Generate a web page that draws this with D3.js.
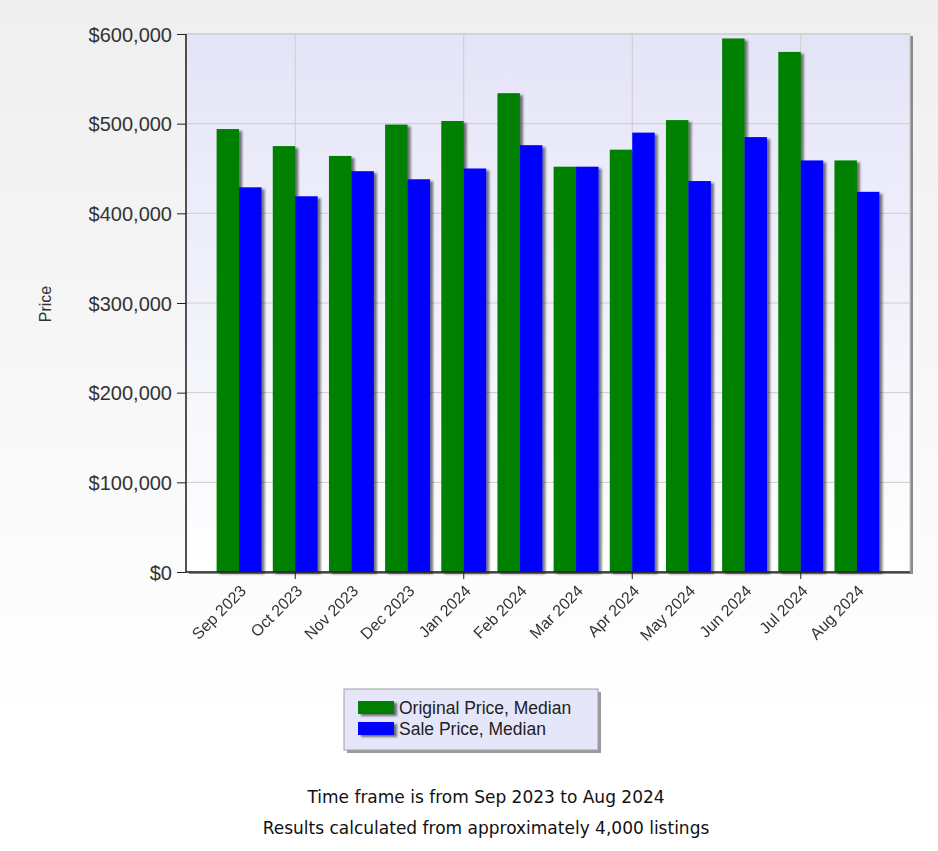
<!DOCTYPE html>
<html>
<head>
<meta charset="utf-8">
<script src="https://cdn.jsdelivr.net/npm/d3@7"></script>
<style>
  html, body { margin: 0; padding: 0; background: #fff; }
  svg { display: block; }
  .tick text { font-family: Arial, 'Liberation Sans', sans-serif; fill: #333; }
  .note { font-family: Verdana, 'DejaVu Sans', sans-serif; font-size: 17px; fill: #111; }
</style>
</head>
<body>
<svg width="938" height="851"></svg>
<script>
const months = ['Sep 2023', 'Oct 2023', 'Nov 2023', 'Dec 2023', 'Jan 2024', 'Feb 2024',
  'Mar 2024', 'Apr 2024', 'May 2024', 'Jun 2024', 'Jul 2024', 'Aug 2024']
const originalPrice = [494000, 475000, 464000, 499000, 503000, 534000, 452000, 471000, 504000, 595000, 580000, 459000]
const salePrice = [429000, 419000, 447000, 438000, 450000, 476000, 452000, 490000, 436000, 485000, 459000, 424000]
const seriesNames = ['Original Price, Median', 'Sale Price, Median']
const seriesColors = ['#008000', '#0000ff']
const yTicks = [0, 100000, 200000, 300000, 400000, 500000, 600000]
const xTickMonths = ['Oct 2023', 'Jan 2024', 'Apr 2024', 'Jul 2024']
const notes = ['Time frame is from Sep 2023 to Aug 2024', 'Results calculated from approximately 4,000 listings']

const width = 938
const height = 851
const margin = { top: 34, right: 28, bottom: 279, left: 186 }

const svg = d3.select('svg')
const defs = svg.append('defs')

const pageGrad = defs.append('linearGradient')
  .attr('id', 'page-bg').attr('x1', 0).attr('y1', 0).attr('x2', 0).attr('y2', 1)
pageGrad.append('stop').attr('offset', '0%').attr('stop-color', '#efefef')
pageGrad.append('stop').attr('offset', '85%').attr('stop-color', '#ffffff')

const plotGrad = defs.append('linearGradient')
  .attr('id', 'plot-bg').attr('x1', 0).attr('y1', 0).attr('x2', 0).attr('y2', 1)
plotGrad.append('stop').attr('offset', '0%').attr('stop-color', '#e4e4f8')
plotGrad.append('stop').attr('offset', '100%').attr('stop-color', '#ffffff')

defs.append('filter').attr('id', 'shadow')
  .attr('x', '-20%').attr('y', '-20%').attr('width', '160%').attr('height', '160%')
  .append('feDropShadow')
  .attr('dx', 3).attr('dy', 2).attr('stdDeviation', 1)
  .attr('flood-color', '#222').attr('flood-opacity', 0.6)

svg.append('rect')
  .attr('width', width).attr('height', height)
  .attr('fill', 'url(#page-bg)')

const x0 = margin.left
const x1 = width - margin.right
const yBottom = height - margin.bottom

const xScale = d3.scaleBand(months, [x0, x1])
  .paddingInner(0.2)
  .paddingOuter(0.545)
const xSub = d3.scaleBand([0, 1], [0, xScale.bandwidth()])
const yScale = d3.scaleLinear([0, 600000], [yBottom, margin.top])

// Plot area with shadow
svg.append('rect')
  .attr('x', x0 + 3).attr('y', margin.top + 2)
  .attr('width', x1 - x0).attr('height', yBottom - margin.top)
  .attr('fill', '#8a8a8a')
svg.append('rect')
  .attr('x', x0).attr('y', margin.top)
  .attr('width', x1 - x0).attr('height', yBottom - margin.top)
  .attr('fill', 'url(#plot-bg)')
  .attr('stroke', '#c8c8c8')

// Grid
svg.append('g')
  .selectAll('line')
  .data(yTicks.slice(1))
  .join('line')
  .attr('x1', x0).attr('x2', x1)
  .attr('y1', d => yScale(d)).attr('y2', d => yScale(d))
  .attr('stroke', '#cccccc')

svg.append('g')
  .selectAll('line')
  .data(xTickMonths)
  .join('line')
  .attr('x1', d => xScale(d) + xScale.bandwidth() / 2)
  .attr('x2', d => xScale(d) + xScale.bandwidth() / 2)
  .attr('y1', margin.top).attr('y2', yBottom)
  .attr('stroke', '#cccccc')

// Bars
const rows = months.map((m, i) => ({ month: m, values: [originalPrice[i], salePrice[i]] }))
svg.append('g')
  .attr('filter', 'url(#shadow)')
  .selectAll('g')
  .data(rows)
  .join('g')
  .attr('transform', d => `translate(${ xScale(d.month) },0)`)
  .selectAll('rect')
  .data(d => d.values.map((v, k) => ({ k, v })))
  .join('rect')
  .attr('x', d => xSub(d.k))
  .attr('width', xSub.bandwidth())
  .attr('y', d => yScale(d.v))
  .attr('height', d => yBottom - yScale(d.v))
  .attr('fill', d => seriesColors[d.k])

// Y axis
const yAxisEl = svg.append('g')
  .attr('transform', `translate(${ x0 },0)`)
  .call(d3.axisLeft(yScale).tickValues(yTicks).tickFormat(d3.format('$,')).tickSize(9).tickPadding(5))
yAxisEl.selectAll('.tick text').style('font-size', '20px').attr('dy', '0.36em')
yAxisEl.selectAll('.tick line').attr('stroke', '#222')
yAxisEl.select('.domain').remove()

// X axis
const xAxisEl = svg.append('g')
  .attr('transform', `translate(0,${ yBottom })`)
  .call(d3.axisBottom(xScale).tickSize(0).tickPadding(0))
xAxisEl.select('.domain').remove()
xAxisEl.selectAll('.tick text')
  .style('font-size', '16px')
  .attr('text-anchor', 'end')
  .attr('transform', 'translate(4,16) rotate(-45)')
  .attr('dy', '0.35em')
xAxisEl.selectAll('.tick')
  .filter(d => xTickMonths.includes(d))
  .append('line')
  .attr('y2', 7)
  .attr('stroke', '#222')

// Axis lines
svg.append('line')
  .attr('x1', x0).attr('x2', x0)
  .attr('y1', margin.top).attr('y2', yBottom)
  .attr('stroke', '#222').attr('stroke-width', 1.5)
svg.append('line')
  .attr('x1', x0).attr('x2', x1)
  .attr('y1', yBottom).attr('y2', yBottom)
  .attr('stroke', '#222').attr('stroke-width', 1.5)

svg.append('text')
  .attr('transform', `translate(51,${ (margin.top + yBottom) / 2 + 1 }) rotate(-90)`)
  .attr('text-anchor', 'middle')
  .style('font-family', 'Arial, "Liberation Sans", sans-serif')
  .style('font-size', '16px')
  .style('fill', '#333')
  .text('Price')

// Legend
const legend = svg.append('g').attr('transform', 'translate(344,689)')
legend.append('rect')
  .attr('x', 3).attr('y', 3).attr('width', 254).attr('height', 61)
  .attr('fill', '#9a9a9a')
legend.append('rect')
  .attr('width', 254).attr('height', 61)
  .attr('fill', '#e6e6fa')
  .attr('stroke', '#a0a0a0')
const item = legend.selectAll('g')
  .data(seriesNames)
  .join('g')
  .attr('transform', (d, i) => `translate(14,${ 12 + i * 21 })`)
item.append('rect')
  .attr('width', 36).attr('height', 13)
  .attr('fill', (d, i) => seriesColors[i])
  .attr('filter', 'url(#shadow)')
item.append('text')
  .attr('x', 41).attr('y', 7)
  .attr('dy', '0.36em')
  .style('font-family', 'Arial, "Liberation Sans", sans-serif')
  .style('font-size', '17.5px')
  .style('fill', '#222')
  .text(d => d)

// Notes
svg.append('g')
  .selectAll('text')
  .data(notes)
  .join('text')
  .classed('note', true)
  .attr('x', 486)
  .attr('y', (d, i) => 803 + i * 31)
  .attr('text-anchor', 'middle')
  .text(d => d)
</script>
</body>
</html>
